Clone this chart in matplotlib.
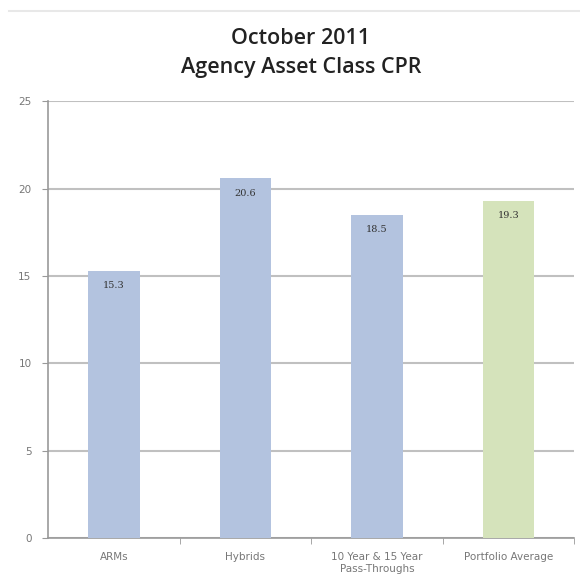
import matplotlib.pyplot as plt
from matplotlib.lines import Line2D

categories = ["ARMs", "Hybrids", "10 Year & 15 Year\nPass-Throughs", "Portfolio Average"]
cpr_values = [15.3, 20.6, 18.5, 19.3]
bar_colors = ["#B3C3DF", "#B3C3DF", "#B3C3DF", "#D5E3BB"]
y_ticks = [0, 5, 10, 15, 20, 25]

fig = plt.figure(figsize=(5.8, 5.85), dpi=100)
ax = fig.add_axes([0.083, 0.080, 0.907, 0.747])

x = range(len(categories))
bars = ax.bar(x, cpr_values, width=0.39, color=bar_colors, zorder=3)

for b, v in zip(bars, cpr_values):
    ax.text(b.get_x() + b.get_width() / 2, v - 0.6, f"{v:.1f}",
            ha="center", va="top", fontsize=7, color="#333333",
            family="DejaVu Serif", zorder=4)

ax.set_xlim(-0.5, len(categories) - 0.5)
ax.set_ylim(0, 25)
ax.set_yticks(y_ticks)
ax.set_yticklabels([str(t) for t in y_ticks], fontsize=7.5, color="#777777")
ax.yaxis.grid(True, color="#C0C0C0", linewidth=1.5, zorder=0)

ax.set_xticks(x)
ax.set_xticklabels(categories, fontsize=7.5, color="#777777", linespacing=1.3)
ax.tick_params(axis="x", length=0, pad=10)
ax.set_xticks([i + 0.5 for i in x], minor=True)
ax.tick_params(axis="x", which="minor", length=4, color="#999999")
ax.tick_params(axis="y", length=4, color="#999999", pad=8)

for s in ["top", "right"]:
    ax.spines[s].set_visible(False)
ax.spines["left"].set_color("#999999")
ax.spines["bottom"].set_color("#999999")
ax.spines["left"].set_linewidth(1.2)
ax.spines["bottom"].set_linewidth(1.2)

fig.text(0.519, 0.935, "October 2011", ha="center", va="center",
         fontsize=15.5, family="Open Sans", weight="semibold", color="#222222")
fig.text(0.519, 0.885, "Agency Asset Class CPR", ha="center", va="center",
         fontsize=15.5, family="Open Sans", weight="semibold", color="#222222")

fig.add_artist(Line2D([0.015, 1.0], [0.981, 0.981], color="#E8E8E8",
                      linewidth=1.5, transform=fig.transFigure))

fig.savefig("out.png", dpi=100)
